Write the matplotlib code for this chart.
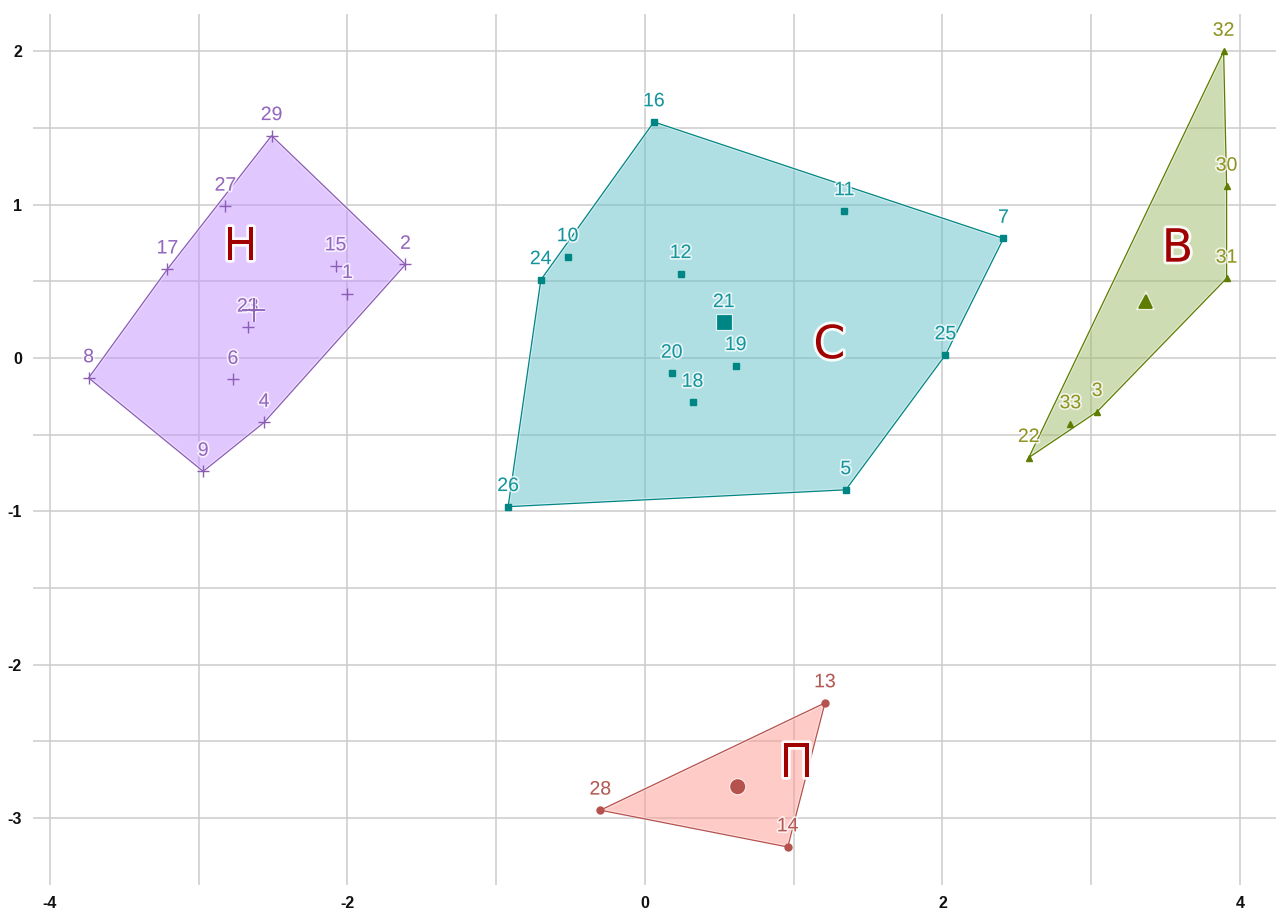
import numpy as np
import matplotlib
matplotlib.use('Agg')
from matplotlib import pyplot as plt
from matplotlib import patheffects as pe
from matplotlib.patches import Polygon

plt.rcParams['font.family'] = ['Liberation Sans Narrow', 'Liberation Sans', 'DejaVu Sans']

# cluster Н (plus markers)
n_ids = ['29', '27', '17', '8', '9', '4', '6', '23', '15', '1', '2']
n_x = [-2.51, -2.82, -3.21, -3.74, -2.97, -2.56, -2.77, -2.67, -2.08, -2.00, -1.61]
n_y = [1.45, 0.99, 0.58, -0.13, -0.74, -0.42, -0.14, 0.20, 0.60, 0.42, 0.61]

# cluster С (square markers)
c_ids = ['16', '11', '7', '10', '24', '12', '21', '25', '20', '19', '18', '26', '5']
c_x = [0.06, 1.34, 2.41, -0.52, -0.70, 0.24, 0.53, 2.02, 0.18, 0.61, 0.32, -0.92, 1.35]
c_y = [1.54, 0.96, 0.78, 0.66, 0.51, 0.55, 0.23, 0.02, -0.10, -0.05, -0.29, -0.97, -0.86]

# cluster В (triangle markers)
v_ids = ['32', '30', '31', '22', '33', '3']
v_x = [3.89, 3.91, 3.91, 2.58, 2.86, 3.04]
v_y = [2.00, 1.12, 0.52, -0.65, -0.43, -0.35]

# cluster П (circle markers)
p_ids = ['13', '28', '14']
p_x = [1.21, -0.30, 0.96]
p_y = [-2.25, -2.95, -3.19]

cluster_names = ['Н', 'С', 'В', 'П']
name_x = [-2.72, 1.24, 3.58, 1.02]
name_y = [0.72, 0.08, 0.71, -2.65]

clusters = [
    (n_ids, n_x, n_y, '+', 9, '#8B5DB5', '#9466BE', '#C393FF'),
    (c_ids, c_x, c_y, 's', 5, '#008585', '#15959C', '#61C1C9'),
    (v_ids, v_x, v_y, '^', 5, '#5E7D00', '#8F9422', '#9FBB69'),
    (p_ids, p_x, p_y, 'o', 5, '#B5524E', '#B35A55', '#FF9991'),
]


def convex_hull(pts):
    pts = sorted(set(pts))
    def cross(o, a, b):
        return (a[0] - o[0]) * (b[1] - o[1]) - (a[1] - o[1]) * (b[0] - o[0])
    lower, upper = [], []
    for p in pts:
        while len(lower) >= 2 and cross(lower[-2], lower[-1], p) <= 0:
            lower.pop()
        lower.append(p)
    for p in reversed(pts):
        while len(upper) >= 2 and cross(upper[-2], upper[-1], p) <= 0:
            upper.pop()
        upper.append(p)
    return lower[:-1] + upper[:-1]


fig = plt.figure(figsize=(12.76, 9.14), dpi=100)
ax = fig.add_axes([33 / 1276, 29 / 914, 1243 / 1276, 871 / 914])

glow = [pe.withStroke(linewidth=2.5, foreground='white', alpha=0.7)]

for ids, xs, ys, mk, ms, col, lab_col, fill in clusters:
    hull = convex_hull(list(zip(xs, ys)))
    ax.add_patch(Polygon(hull, closed=True, facecolor=fill, alpha=0.5,
                         edgecolor='none', zorder=2))
    ax.add_patch(Polygon(hull, closed=True, facecolor='none', edgecolor=col,
                         linewidth=0.9, zorder=3,
                         path_effects=[pe.withStroke(linewidth=2.5, foreground='white', alpha=0.4)]))
    ax.plot(xs, ys, linestyle='none', marker=mk, markersize=ms, color=col,
            markeredgewidth=1.0, zorder=4)
    for i, x, y in zip(ids, xs, ys):
        ax.annotate(i, (x, y), xytext=(0, 14.5), textcoords='offset points',
                    ha='center', va='center', fontsize=14, color=lab_col,
                    zorder=5, path_effects=glow)
    # cluster centre
    ax.plot(np.mean(xs), np.mean(ys), marker=mk, markersize=ms * 1.9, color=col,
            markeredgewidth=1.3, zorder=6,
            path_effects=[pe.withStroke(linewidth=3, foreground='white', alpha=0.6)])

for name, x, y in zip(cluster_names, name_x, name_y):
    ax.text(x, y, name, ha='center', va='center', fontsize=33, color='#A00000',
            family='DejaVu Sans', zorder=7,
            path_effects=[pe.withStroke(linewidth=4, foreground='white', alpha=0.9)])

ax.set_xlim(-4.114, 4.242)
ax.set_ylim(-3.438, 2.244)
ax.set_xticks([-4, -2, 0, 2, 4])
ax.set_xticks([-3, -1, 1, 3], minor=True)
ax.set_yticks([-3, -2, -1, 0, 1, 2])
ax.set_yticks([-2.5, -1.5, -0.5, 0.5, 1.5], minor=True)
ax.grid(True, which='both', color='#CCCCCC', linewidth=1.1, zorder=0)
ax.set_axisbelow(True)
for s in ax.spines.values():
    s.set_visible(False)
ax.tick_params(which='both', length=0, labelsize=11.5, colors='#111111', pad=8)
ax.set_yticklabels(['-3', '-2', '-1', '0', '1', '2'], fontweight='bold')
ax.set_xticklabels(['-4', '-2', '0', '2', '4'], fontweight='bold')

fig.savefig('out.png', dpi=100)
